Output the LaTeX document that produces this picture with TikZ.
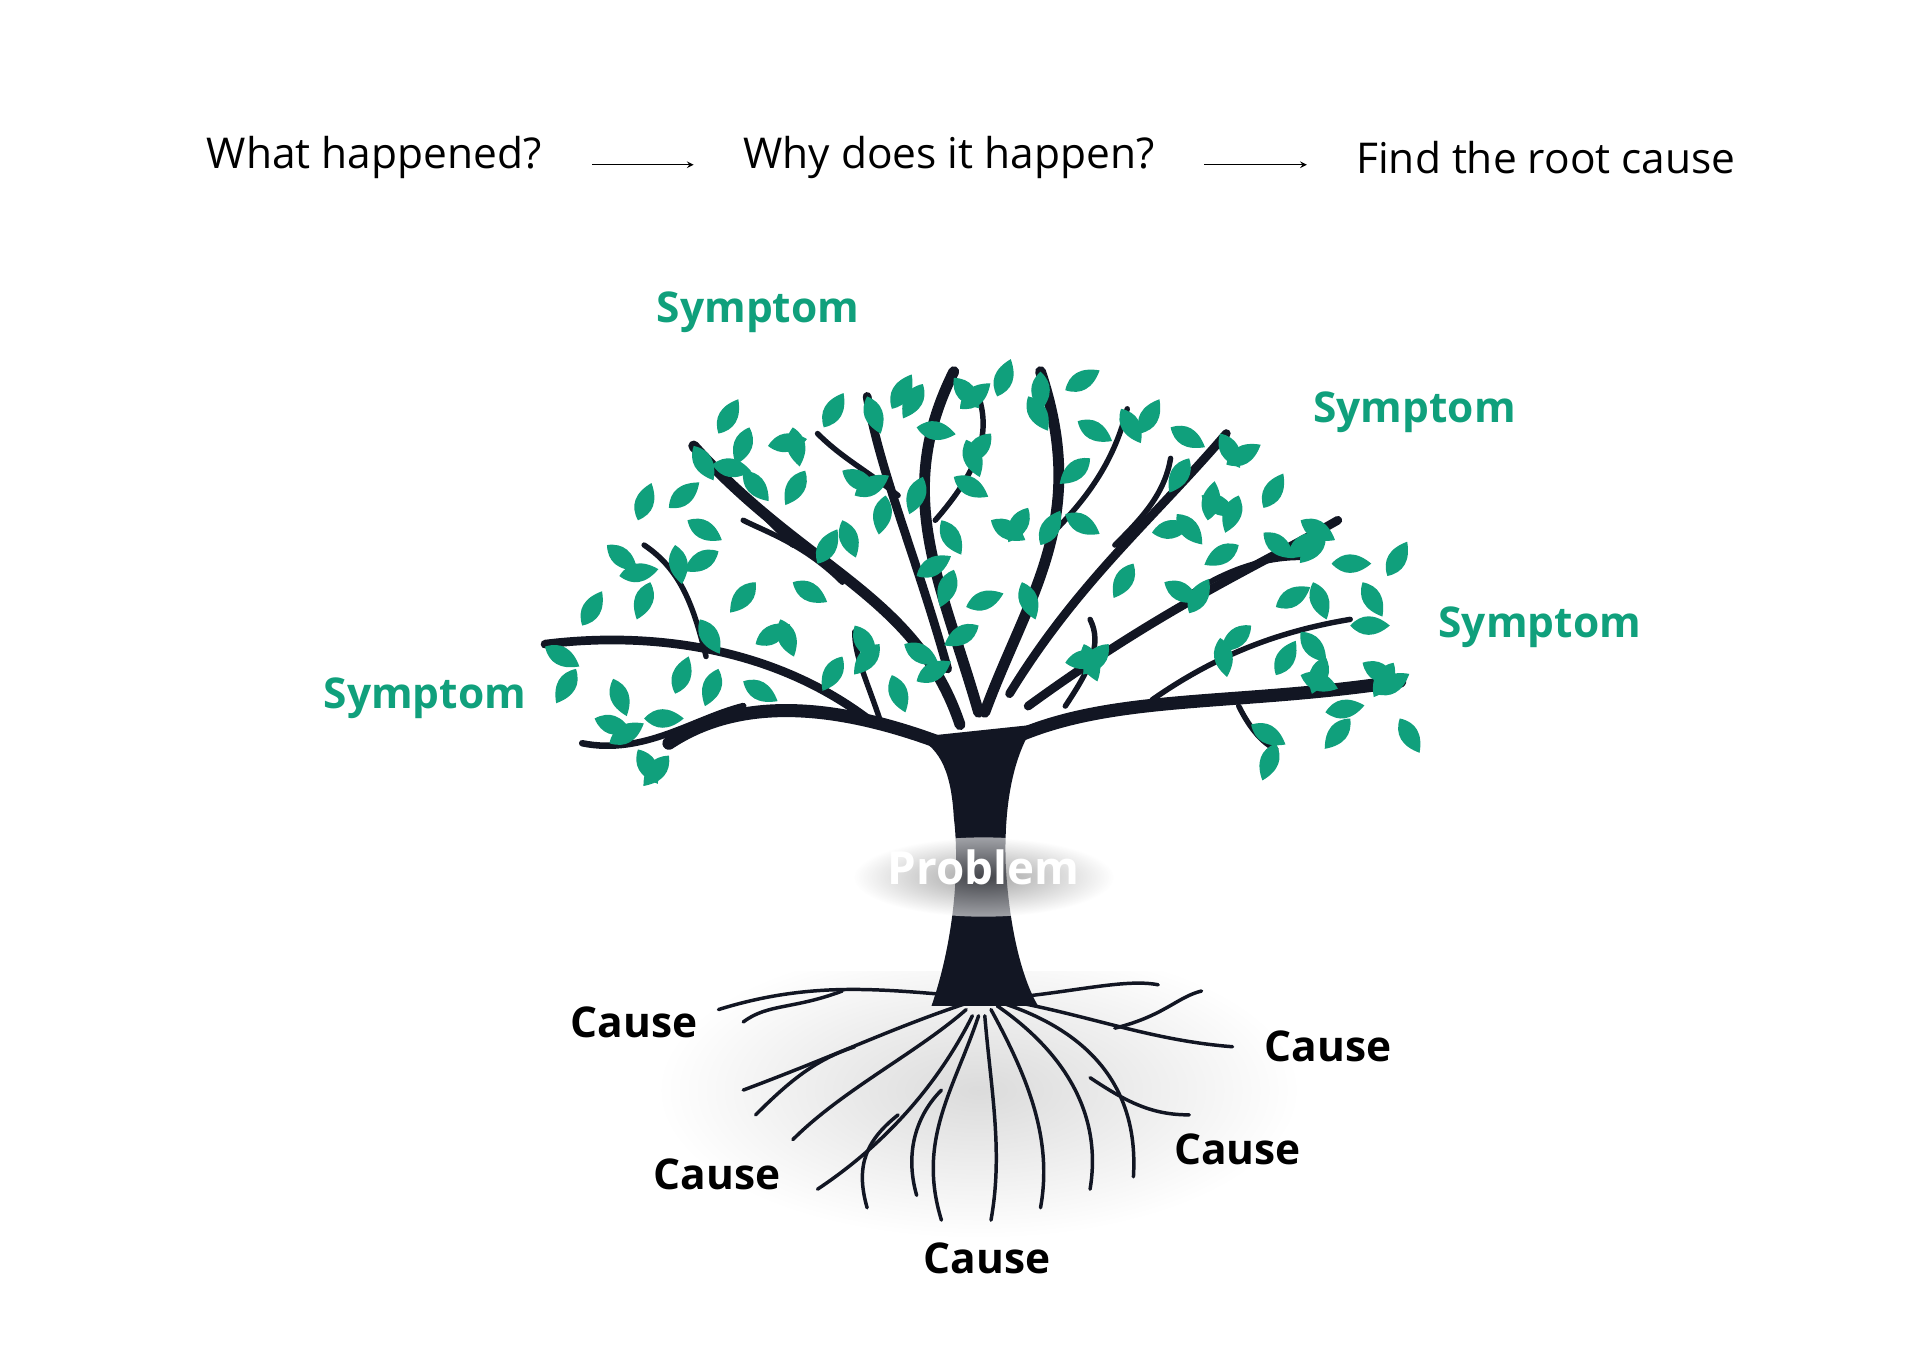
\documentclass[tikz,border=0pt]{standalone}
\usepackage{fontspec}
\setmainfont{Open Sans}
\usetikzlibrary{positioning}
\definecolor{bark}{RGB}{18,22,35}
\definecolor{leafc}{RGB}{16,160,124}
\tikzset{
  question/.style={font=\fontsize{19.5}{24}\selectfont, text=black},
  symptom/.style={font=\fontsize{19.5}{24}\selectfont\bfseries, text=leafc},
  cause/.style={font=\fontsize{19.5}{24}\selectfont\bfseries, text=black},
  branch/.style={draw=bark, line cap=round},
  root/.style={draw=bark, line cap=round, line width=1.6pt},
  leaf/.pic={\fill[leafc] (0,0) .. controls (10,9) and (10,20) .. (0,32) .. controls (-10,20) and (-10,9) .. (0,0);}
}
\begin{document}
\begin{tikzpicture}[x=0.02cm, y=-0.02cm]
\useasboundingbox (0,0) rectangle (1550,1090);

% Question chain
\node[question] (what) at (302,127) {What happened?};
\node[question] (why) at (766,127) {Why does it happen?};
\node[question] (find) at (1248,127) {Find the root cause};
\draw[-stealth] (478,133) -- (560,133);
\draw[-stealth] (972,133) -- (1055,133);

% Ground shadow
\shade[inner color=black!14, outer color=white] (790,880) ellipse (260 and 120);
\fill[white] (500,700) rectangle (1100,784);

% Roots
\draw[root] (790,805) .. controls (720,800) and (660,790) .. (580,815);
\draw[root] (680,800) .. controls (640,815) and (620,810) .. (600,825);
\draw[root] (780,810) .. controls (720,830) and (680,850) .. (600,880);
\draw[root] (690,845) .. controls (660,855) and (640,870) .. (610,900);
\draw[root] (780,815) .. controls (740,850) and (680,880) .. (640,920);
\draw[root] (785,820) .. controls (760,870) and (720,920) .. (660,960);
\draw[root] (725,900) .. controls (700,920) and (690,940) .. (700,975);
\draw[root] (790,820) .. controls (770,880) and (740,920) .. (760,985);
\draw[root] (760,880) .. controls (740,900) and (730,930) .. (740,965);
\draw[root] (795,820) .. controls (800,880) and (810,930) .. (800,985);
\draw[root] (800,815) .. controls (830,870) and (850,920) .. (840,975);
\draw[root] (805,812) .. controls (860,850) and (890,900) .. (880,960);
\draw[root] (810,810) .. controls (870,830) and (920,870) .. (915,950);
\draw[root] (880,870) .. controls (910,890) and (930,900) .. (960,900);
\draw[root] (815,808) .. controls (880,820) and (930,840) .. (995,845);
\draw[root] (900,830) .. controls (940,820) and (950,805) .. (970,800);
\draw[root] (820,805) .. controls (870,800) and (910,790) .. (935,795);

% Trunk
\fill[bark] (752,812) .. controls (770,760) and (775,700) .. (770,660)
  .. controls (768,625) and (760,605) .. (740,595)
  -- (835,585) .. controls (818,610) and (810,650) .. (812,700)
  .. controls (815,750) and (825,790) .. (838,812) -- cycle;

% Branches
\draw[branch, line width=6pt] (760,600) .. controls (680,570) and (600,560) .. (540,600);
\draw[branch, line width=3pt] (600,570) .. controls (560,580) and (520,610) .. (470,600);
\draw[branch, line width=4pt] (700,580) .. controls (620,520) and (520,510) .. (440,520);
\draw[branch, line width=2.5pt] (570,530) .. controls (560,490) and (550,460) .. (520,440);
\draw[branch, line width=5pt] (775,585) .. controls (740,480) and (650,460) .. (560,360);
\draw[branch, line width=2.5pt] (640,440) .. controls (620,420) and (600,400) .. (580,380);
\draw[branch, line width=2.5pt] (680,470) .. controls (650,440) and (620,430) .. (600,420);
\draw[branch, line width=4pt] (765,540) .. controls (740,450) and (710,380) .. (700,320);
\draw[branch, line width=2.5pt] (725,400) .. controls (700,380) and (680,370) .. (660,350);
\draw[branch, line width=5pt] (790,575) .. controls (760,470) and (720,400) .. (770,300);
\draw[branch, line width=2.5pt] (755,420) .. controls (790,380) and (800,350) .. (790,320);
\draw[branch, line width=5pt] (795,575) .. controls (830,480) and (880,420) .. (840,300);
\draw[branch, line width=2.5pt] (850,430) .. controls (880,400) and (900,370) .. (910,330);
\draw[branch, line width=4pt] (815,560) .. controls (870,470) and (930,420) .. (990,350);
\draw[branch, line width=2.5pt] (900,440) .. controls (920,420) and (940,400) .. (945,370);
\draw[branch, line width=4pt] (830,570) .. controls (940,490) and (1010,460) .. (1080,420);
\draw[branch, line width=2.5pt] (960,480) .. controls (990,460) and (1020,450) .. (1050,450);
\draw[branch, line width=6pt] (820,595) .. controls (900,560) and (1000,570) .. (1130,550);
\draw[branch, line width=2.5pt] (930,565) .. controls (980,530) and (1030,510) .. (1090,500);
\draw[branch, line width=2.5pt] (1000,570) .. controls (1010,590) and (1020,600) .. (1030,605);
\draw[branch, line width=2.5pt] (860,570) .. controls (880,540) and (890,520) .. (880,500);
\draw[branch, line width=2.5pt] (710,580) .. controls (700,550) and (690,530) .. (690,510);

% Leaves
\foreach \x/\y/\a in {
  440/522/60, 470/505/150, 465/540/-30, 480/580/70, 495/548/20, 492/600/120,
  515/605/30, 540/610/-40, 520/580/90, 545/560/160, 500/465/100, 490/440/50,
  525/470/-20, 545/440/10, 515/420/160, 555/420/60, 580/445/-60, 540/410/130,
  565/500/30, 580/540/-20, 600/550/60, 610/520/120, 560/360/30, 580/350/150,
  605/345/-20, 575/375/80, 600/380/40, 620/360/100, 640/345/10, 665/345/150,
  650/380/-30, 680/380/60, 690/400/120, 715/400/-10, 700/320/20, 720/330/150,
  745/310/-30, 770/305/40, 775/330/130, 740/345/80, 780/355/20, 800/350/-40,
  805/320/160, 830/320/30, 840/300/0, 860/315/120, 870/340/60, 880/370/-50,
  905/330/30, 920/350/150, 945/345/60, 960/370/-30, 985/350/30, 990/375/120,
  970/400/60, 1000/400/-20, 1020/410/150, 1050/420/60, 1070/430/-40, 1075/455/90,
  1060/470/20, 1040/450/130, 1020/430/50, 1000/440/-60, 975/420/170, 950/415/40,
  930/430/100, 915/455/-30, 940/470/60, 960/495/150, 985/515/10, 1010/505/-50,
  1030/490/120, 1050/510/40, 1070/530/-20, 1090/505/90, 1100/470/30, 1120/465/150,
  1100/535/60, 1125/535/-30, 1110/560/120, 1130/580/30, 1090/580/-40, 1070/575/100,
  1010/585/60, 1030/600/-20, 1030/545/150, 1050/545/70, 875/520/20, 895/520/-40,
  860/535/100, 760/420/30, 770/460/-20, 740/465/120, 800/420/60, 830/410/-30,
  840/440/150, 860/415/60, 825/470/20, 790/505/-60, 780/490/110, 690/505/30,
  710/520/-40, 730/520/60, 740/550/120, 720/545/20, 680/530/-30, 640/470/60,
  660/455/150, 630/500/20, 610/470/-40, 770/385/60, 745/385/-20, 680/420/20}
  \pic[rotate=\a] at (\x,\y) {leaf};

% Labels
\node[symptom] (s1) at (612,252) {Symptom};
\node[symptom] (s2) at (1142,333) {Symptom};
\node[symptom] (s3) at (1243,506) {Symptom};
\node[symptom] (s4) at (343,564) {Symptom};
\shade[inner color=black!60, outer color=white, opacity=0.6] (794,708) ellipse (105 and 32);
\node[font=\fontsize{21}{26}\selectfont\bfseries, text=white] (prob) at (794,700) {Problem};
\node[cause] (c1) at (512,825) {Cause};
\node[cause] (c2) at (1072,845) {Cause};
\node[cause] (c3) at (999,928) {Cause};
\node[cause] (c4) at (579,948) {Cause};
\node[cause] (c5) at (797,1016) {Cause};
\end{tikzpicture}
\end{document}
